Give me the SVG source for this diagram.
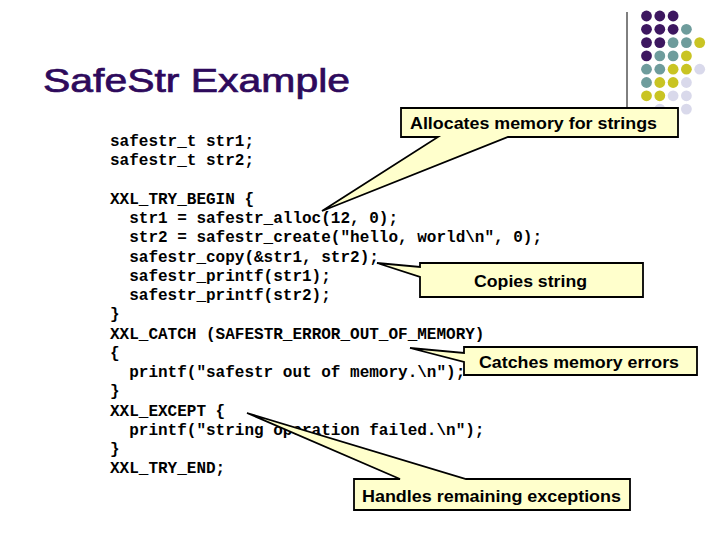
<svg xmlns="http://www.w3.org/2000/svg" width="720" height="540" viewBox="0 0 720 540">
<style>
.code{font-family:"Liberation Mono","Courier New",monospace;font-size:16px;font-weight:bold;fill:#000}
.call{fill:#ffffcc;stroke:#000;stroke-width:1.8;stroke-linejoin:miter}
.ct{font-family:"Liberation Sans",Arial,sans-serif;font-size:17px;font-weight:bold;fill:#000}
.P{fill:#3d1760}.T{fill:#6e9c9c}.Y{fill:#c9c423}.L{fill:#d9d9eb}
</style>
<rect width="720" height="540" fill="#fff"/>
<g id="decoration">
<line x1="627" y1="12" x2="627" y2="108" stroke="#000" stroke-width="1"/>
<g id="dots">
<circle class="P" cx="646.5" cy="16" r="5.4"/><circle class="P" cx="659.8" cy="16" r="5.4"/><circle class="P" cx="673.1" cy="16" r="5.4"/>
<circle class="P" cx="646.5" cy="29.3" r="5.4"/><circle class="P" cx="659.8" cy="29.3" r="5.4"/><circle class="P" cx="673.1" cy="29.3" r="5.4"/><circle class="T" cx="686.4" cy="29.3" r="5.4"/>
<circle class="P" cx="646.5" cy="42.6" r="5.4"/><circle class="P" cx="659.8" cy="42.6" r="5.4"/><circle class="T" cx="673.1" cy="42.6" r="5.4"/><circle class="T" cx="686.4" cy="42.6" r="5.4"/><circle class="Y" cx="699.7" cy="42.6" r="5.4"/>
<circle class="P" cx="646.5" cy="55.9" r="5.4"/><circle class="T" cx="659.8" cy="55.9" r="5.4"/><circle class="T" cx="673.1" cy="55.9" r="5.4"/><circle class="Y" cx="686.4" cy="55.9" r="5.4"/>
<circle class="T" cx="646.5" cy="69.2" r="5.4"/><circle class="T" cx="659.8" cy="69.2" r="5.4"/><circle class="Y" cx="673.1" cy="69.2" r="5.4"/><circle class="Y" cx="686.4" cy="69.2" r="5.4"/><circle class="L" cx="699.7" cy="69.2" r="5.4"/>
<circle class="T" cx="646.5" cy="82.5" r="5.4"/><circle class="Y" cx="659.8" cy="82.5" r="5.4"/><circle class="Y" cx="673.1" cy="82.5" r="5.4"/><circle class="L" cx="686.4" cy="82.5" r="5.4"/>
<circle class="Y" cx="646.5" cy="95.8" r="5.4"/><circle class="Y" cx="659.8" cy="95.8" r="5.4"/><circle class="L" cx="673.1" cy="95.8" r="5.4"/><circle class="L" cx="686.4" cy="95.8" r="5.4"/>
<circle class="L" cx="659.8" cy="109.1" r="5.4"/><circle class="L" cx="686.4" cy="109.1" r="5.4"/>
</g>
</g>
<text id="title" x="43" y="92" font-family="'Liberation Sans',Arial,sans-serif" font-size="33" fill="#2e0a5c" stroke="#2e0a5c" stroke-width="0.7" textLength="307" lengthAdjust="spacingAndGlyphs">SafeStr Example</text>
<g id="code" class="code">
<text x="110" y="146">safestr_t str1;</text>
<text x="110" y="165.25">safestr_t str2;</text>
<text x="110" y="203.75">XXL_TRY_BEGIN {</text>
<text x="129.2" y="223">str1 = safestr_alloc(12, 0);</text>
<text x="129.2" y="242.25">str2 = safestr_create("hello, world\n", 0);</text>
<text x="129.2" y="261.5">safestr_copy(&amp;str1, str2);</text>
<text x="129.2" y="280.75">safestr_printf(str1);</text>
<text x="129.2" y="300">safestr_printf(str2);</text>
<text x="110" y="319.25">}</text>
<text x="110" y="338.5">XXL_CATCH (SAFESTR_ERROR_OUT_OF_MEMORY)</text>
<text x="110" y="357.75">{</text>
<text x="129.2" y="377">printf("safestr out of memory.\n");</text>
<text x="110" y="396.25">}</text>
<text x="110" y="415.5">XXL_EXCEPT {</text>
<text x="129.2" y="434.75">printf("string operation failed.\n");</text>
<text x="110" y="454">}</text>
<text x="110" y="473.25">XXL_TRY_END;</text>
</g>
<g id="callout-alloc">
<path class="call" d="M401,108 H678 V137 H508 L322,211 L438,137 H401 Z"/>
<text class="ct" x="410" y="128.5" textLength="247" lengthAdjust="spacingAndGlyphs">Allocates memory for strings</text>
</g>
<g id="callout-copy">
<path class="call" d="M420,263 H643 V297 H420 V277 L377,263 L420,267 Z"/>
<text class="ct" x="474" y="286.5" textLength="113" lengthAdjust="spacingAndGlyphs">Copies string</text>
</g>
<g id="callout-catch">
<path class="call" d="M464,347 H697 V375 H464 V362 L410,348 L464,353 Z"/>
<text class="ct" x="479" y="367.5" textLength="200" lengthAdjust="spacingAndGlyphs">Catches memory errors</text>
</g>
<g id="callout-except">
<path class="call" d="M354,479 H400 L247,413 L466,479 H630 V510 H354 Z"/>
<text class="ct" x="362" y="501.5" textLength="259" lengthAdjust="spacingAndGlyphs">Handles remaining exceptions</text>
</g>
</svg>
